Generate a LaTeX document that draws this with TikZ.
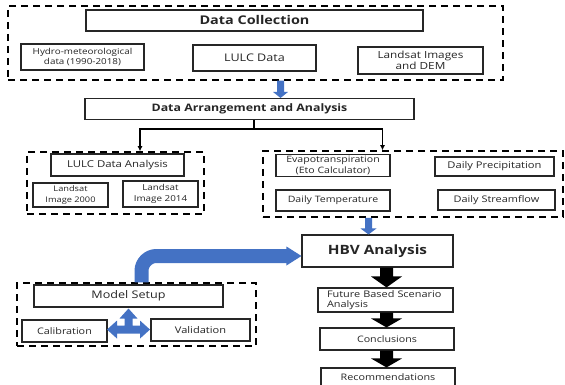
\documentclass[tikz,border=0pt]{standalone}
\usepackage{fontspec}
\setmainfont{Open Sans}[FakeStretch=1.2]
\usetikzlibrary{calc,arrows.meta}
\definecolor{flowblue}{HTML}{4472C4}
\definecolor{ink}{HTML}{262626}
% vertical block arrow: style, from, to, shaft half-width, head half-width, head length
\newcommand\blockdown[6]{%
  \fill[#1] let \p1=(#2), \p2=(#3) in
    (\x2,\y2) -- (\x2-#5,\y2+#6) -- (\x2-#4,\y2+#6) -- (\x2-#4,\y1)
    -- (\x2+#4,\y1) -- (\x2+#4,\y2+#6) -- (\x2+#5,\y2+#6) -- cycle;}
\begin{document}
\begin{tikzpicture}[x=1pt,y=-1pt,
  box/.style={draw=ink, line width=1.1pt, inner sep=1pt, align=center, text=ink,
    font=\fontsize{9}{11}\selectfont},
  fs/.style={font=\fontsize{#1}{10.5}\selectfont},
  bfs/.style={font=\bfseries\fontsize{#1}{12}\selectfont},
  frame/.style={draw=black, line width=1.5pt, dash pattern=on 7pt off 5pt, inner sep=0pt},
  conn/.style={draw=black, line width=1.3pt},
  tip/.style={-{Latex[length=5pt,width=5pt]}},
]
\clip (0,0) rectangle (565,385);
\fill[white] (0,0) rectangle (565,385);

% dashed group frames
\node[frame, minimum width=495pt, minimum height=74pt] (dcframe) at (255.5,43) {};
\node[frame, minimum width=177pt, minimum height=62pt] (lframe) at (115.5,183) {};
\node[frame, minimum width=300pt, minimum height=66pt] (rframe) at (413,184) {};
\node[frame, minimum width=239pt, minimum height=63pt] (setupframe) at (136.5,314.5) {};

% data collection
\node[box, bfs=12, minimum width=337pt, minimum height=21pt] (dc) at (254.5,20.5) {Data Collection};
\node[box, fs=8.2, minimum width=123pt, minimum height=26pt] (hydro) at (82.5,57) {Hydro-meteorological\\data (1990-2018)};
\node[box, fs=10.5, minimum width=123pt, minimum height=26pt] (lulc) at (254.5,58) {LULC Data};
\node[box, fs=9.8, minimum width=125pt, minimum height=27pt] (landsat) at (420.5,60.5) {Landsat Images\\and DEM};

% arrangement
\node[box, bfs=10.3, minimum width=329pt, minimum height=21pt] (daa) at (249.5,109) {Data Arrangement and Analysis};

% left group
\node[box, fs=9.5, minimum width=133pt, minimum height=22pt] (lda) at (117.5,165) {LULC Data Analysis};
\node[box, fs=7.7, minimum width=75pt, minimum height=24pt] (ls2000) at (70.5,195) {Landsat\\Image 2000};
\node[box, fs=8.2, minimum width=75pt, minimum height=26pt] (ls2014) at (160.5,194) {Landsat\\Image 2014};

% right group
\node[box, fs=8.8, minimum width=114pt, minimum height=22pt] (evapo) at (333,165.5) {Evapotranspiration\\(Eto Calculator)};
\node[box, fs=9.3, minimum width=119pt, minimum height=19pt] (precip) at (494.5,166.5) {Daily Precipitation};
\node[box, fs=8.8, minimum width=114pt, minimum height=21pt] (temp) at (333,200.5) {Daily Temperature};
\node[box, fs=9.1, minimum width=117pt, minimum height=20pt] (stream) at (496.5,200) {Daily Streamflow};

% model chain
\node[box, bfs=12.8, minimum width=151pt, minimum height=32pt] (hbv) at (377.5,251) {HBV Analysis};
\node[box, fs=9.1, align=left, text width=117pt, minimum width=135pt, minimum height=24pt, inner sep=0pt] (future) at (385.5,300) {Future Based Scenario\\Analysis};
\node[box, fs=8.9, minimum width=134pt, minimum height=22pt] (concl) at (387,339) {Conclusions};
\node[box, fs=9, minimum width=134pt, minimum height=24pt, text depth=6pt] (recom) at (388,380) {Recommendations};

% model setup group
\node[box, fs=10.5, minimum width=189pt, minimum height=22pt] (setup) at (128.5,296) {Model Setup};
\node[box, fs=9, minimum width=85pt, minimum height=22pt] (calib) at (64.5,331) {Calibration};
\node[box, fs=9.2, minimum width=99pt, minimum height=22pt] (valid) at (200.5,330) {Validation};

% split connector below the arrangement box
\coordinate (split) at (254,129);
\draw[conn] (daa.south -| split) -- (split);
\draw[conn, tip] (split) -| ([xshift=24.5pt]lframe.north);
\draw[conn, tip] (split) -| ([xshift=-30.5pt]rframe.north);

% blue drop arrows
\coordinate (dropA) at (280.5,0);
\coordinate (dropB) at (368.5,0);
\blockdown{flowblue}{dcframe.south -| dropA}{daa.north -| dropA}{3.5pt}{7.5pt}{6pt}
\blockdown{flowblue}{rframe.south -| dropB}{hbv.north -| dropB}{3.5pt}{8pt}{6pt}

% black block arrows down the chain
\coordinate (chain) at (386.5,0);
\blockdown{black}{hbv.south -| chain}{future.north -| chain}{6.5pt}{15.5pt}{11pt}
\blockdown{black}{future.south -| chain}{concl.north -| chain}{6.5pt}{15.5pt}{9pt}
\blockdown{black}{concl.south -| chain}{recom.north -| chain}{6.5pt}{15.5pt}{9pt}

% bent feed arrow from model setup into HBV
\coordinate (bendx) at (141.5,0);
\draw[flowblue, line width=14pt, rounded corners=15pt]
  (setupframe.north -| bendx) |- ($(hbv.west)+(-14,5)$);
\fill[flowblue] let \p1=($(hbv.west)+(0,5)$) in
  (\p1) -- (\x1-15pt,\y1+9.5pt) -- (\x1-15pt,\y1-9.5pt) -- cycle;

% three-way arrow between setup, calibration and validation
\coordinate (hub) at ($(setup.south)+(0,22)$);
\fill[flowblue, shift={(hub)}]
  (0,-21) -- (9,-11) -- (4,-11) -- (4,-4) -- (11.5,-4) -- (11.5,-9) -- (21.5,0)
  -- (11.5,9) -- (11.5,4) -- (-11.5,4) -- (-11.5,9) -- (-21.5,0) -- (-11.5,-9)
  -- (-11.5,-4) -- (-4,-4) -- (-4,-11) -- (-9,-11) -- cycle;
\end{tikzpicture}
\end{document}
